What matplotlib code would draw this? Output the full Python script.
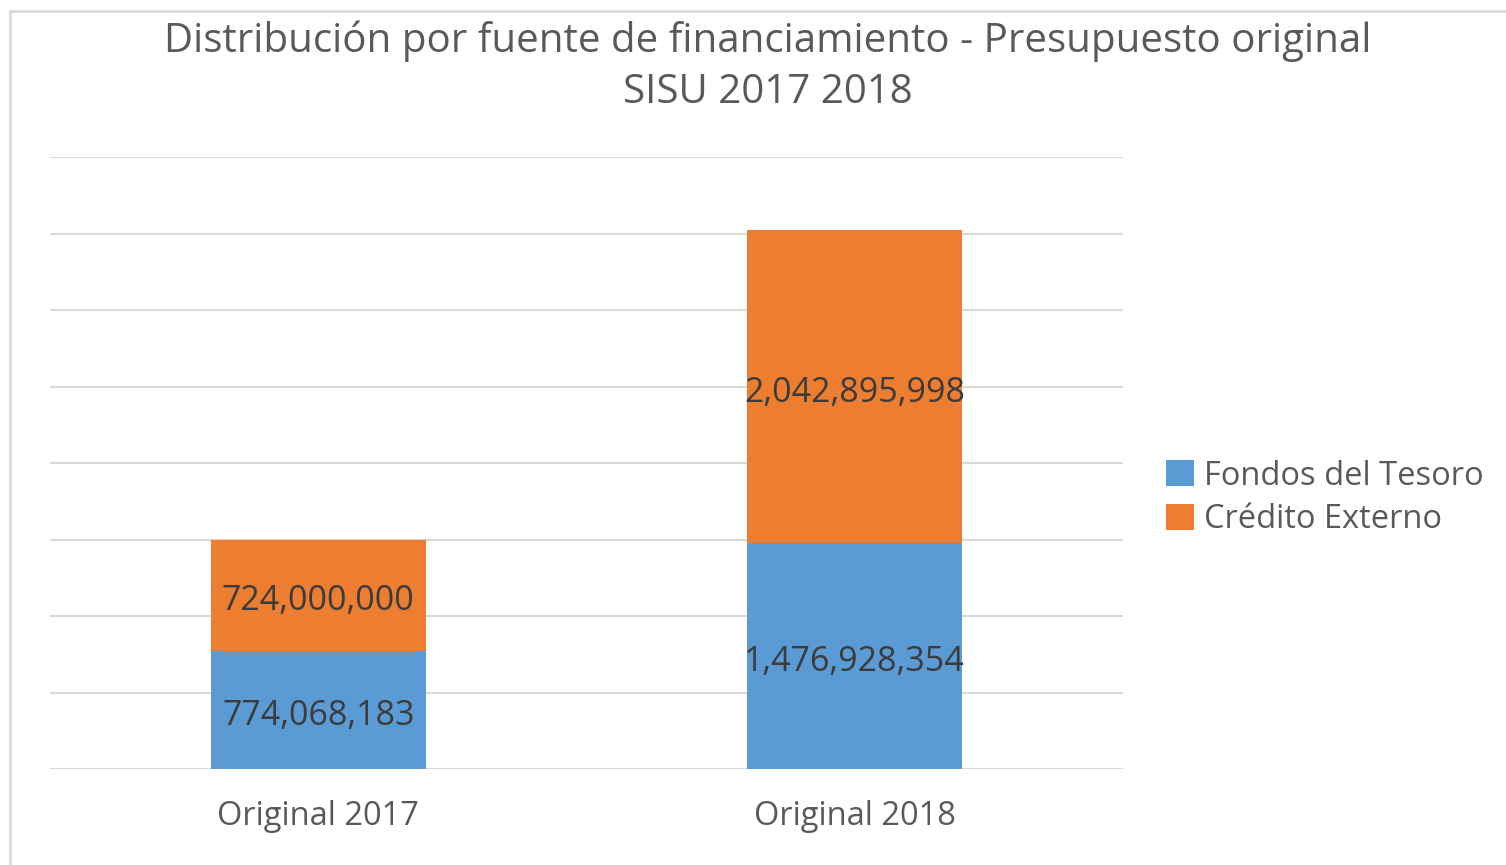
import matplotlib
matplotlib.use("Agg")
import matplotlib.pyplot as plt
from matplotlib.patches import Rectangle

# Data
categories = ["Original 2017", "Original 2018"]
fondos_tesoro = [774068183, 1476928354]
credito_externo = [724000000, 2042895998]
series_names = ["Fondos del Tesoro", "Crédito Externo"]

blue = "#5B9BD5"
orange = "#ED7D31"
text_gray = "#595959"
label_color = "#3B3B3B"

plt.rcParams['font.family'] = ['Open Sans', 'DejaVu Sans']

fig = plt.figure(figsize=(15.06, 8.65), dpi=100)
ax = fig.add_axes([50 / 1506, 1 - 769 / 865, (1123 - 50) / 1506, (769 - 157) / 865])

x = list(range(len(categories)))
b1 = ax.bar(x, fondos_tesoro, width=0.4, color=blue, label=series_names[0], zorder=3)
b2 = ax.bar(x, credito_externo, width=0.4, bottom=fondos_tesoro, color=orange,
            label=series_names[1], zorder=3)

for bars in (b1, b2):
    anns = ax.bar_label(bars, labels=[f"{v:,.0f}" for v in bars.datavalues],
                        label_type='center', fontsize=24.5, color=label_color, zorder=4)
    for a in anns:
        a.xyann = (0, -4.5)

ax.set_xlim(-0.5, 1.5)
ax.set_ylim(0, 4e9)
ax.set_yticks([i * 5e8 for i in range(9)])
ax.set_yticklabels([])
ax.tick_params(axis='y', length=0)
ax.set_xticks(x)
ax.set_xticklabels(categories, fontsize=23.5, color=text_gray)
ax.tick_params(axis='x', length=0, pad=22)
ax.grid(axis='y', color='#D9D9D9', linewidth=1.5, zorder=0)
for s in ax.spines.values():
    s.set_visible(False)

fig.text(0.51, 1 - 41 / 865, "Distribución por fuente de financiamiento - Presupuesto original",
         ha='center', va='center', fontsize=29, color=text_gray)
fig.text(0.51, 1 - 93 / 865, "SISU 2017 2018",
         ha='center', va='center', fontsize=29, color=text_gray)

fig.legend(handles=[b1, b2], labels=series_names, loc='center left',
           bbox_to_anchor=(1137 / 1506, 1 - 498 / 865), frameon=False,
           fontsize=23.5, labelcolor=text_gray, handlelength=0.85, handleheight=0.85,
           handletextpad=0.3, labelspacing=0.32)

fig.patches.append(Rectangle((10 / 1506, -0.01), 1.0, 1 - 11 / 865 + 0.01,
                             transform=fig.transFigure, fill=False,
                             edgecolor='#D9D9D9', linewidth=2))

fig.savefig("out.png", dpi=100)
